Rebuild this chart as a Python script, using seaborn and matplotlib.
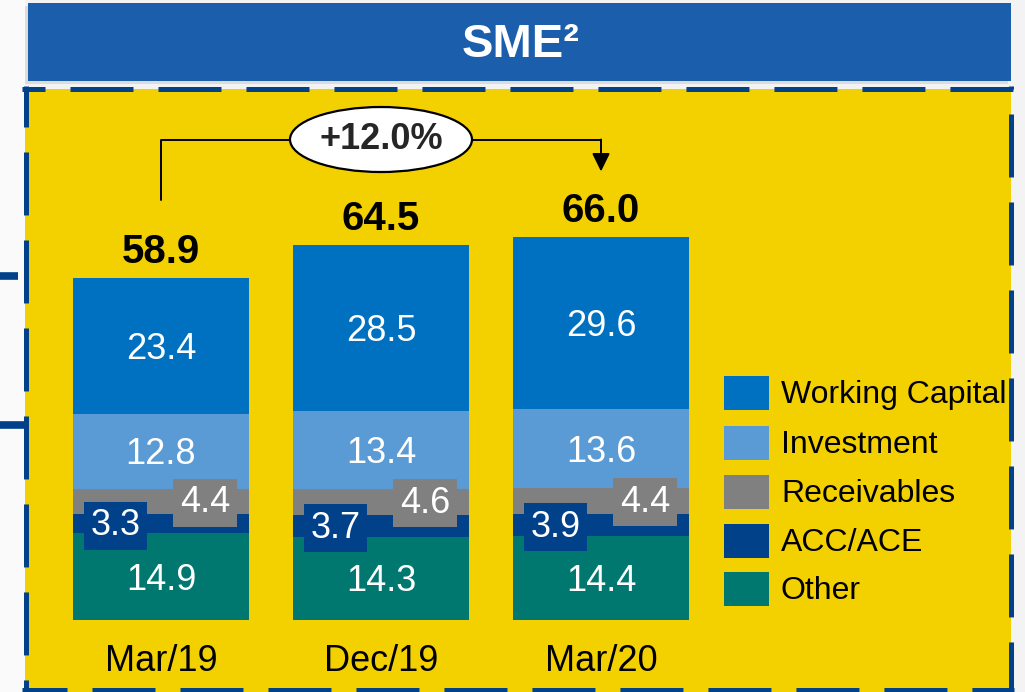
import numpy as np
import pandas as pd
import matplotlib
matplotlib.use("Agg")
import matplotlib.pyplot as plt
import seaborn as sns
from matplotlib.patches import Rectangle, Ellipse
from matplotlib.lines import Line2D

# --- data ---
periods = ['Mar/19', 'Dec/19', 'Mar/20']
other = [14.9, 14.3, 14.4]
acc_ace = [3.3, 3.7, 3.9]
receivables = [4.4, 4.6, 4.4]
investment = [12.8, 13.4, 13.6]
working_capital = [23.4, 28.5, 29.6]
totals = [58.9, 64.5, 66.0]
growth_label = '+12.0%'
title = 'SME²'

# stack order, bottom to top
segments = ['Other', 'ACC/ACE', 'Receivables', 'Investment', 'Working Capital']
values = [other, acc_ace, receivables, investment, working_capital]
colors = {
    'Working Capital': '#0070C0',
    'Investment': '#5B9BD5',
    'Receivables': '#808080',
    'ACC/ACE': '#00418A',
    'Other': '#00786F',
}

rows = []
for p_i, period in enumerate(periods):
    bottom = 0.0
    for seg, vals in zip(segments, values):
        v = vals[p_i]
        rows.append({'period': period, 'segment': seg, 'value': v,
                     'bottom': bottom, 'top': bottom + v})
        bottom += v
df = pd.DataFrame(rows)

sns.set_style('white')
plt.rcParams['font.family'] = ['Liberation Sans', 'DejaVu Sans']

W, H = 1025, 692
fig = plt.figure(figsize=(W / 100, H / 100), dpi=100)
fig.patch.set_facecolor('#F3F3F3')


def fx(x):
    return x / W


def fy(y):
    return 1 - y / H


BLUE_DARK = '#00418A'
YELLOW = '#F3D000'

# white strip on the left (neighbouring slide)
fig.add_artist(Rectangle((0, 0), fx(25), 1, transform=fig.transFigure,
                         facecolor='#FAFAFA', edgecolor='none', zorder=0))
for y0, x1 in [(276, 18), (425, 25)]:
    fig.add_artist(Line2D([0, fx(x1)], [fy(y0), fy(y0)], transform=fig.transFigure,
                          color=BLUE_DARK, lw=5.5, solid_capstyle='butt', zorder=1))

# title bar with a soft shadow
fig.add_artist(Rectangle((fx(25), fy(84)), fx(983), 78 / H, transform=fig.transFigure,
                         facecolor='#9A9A9A', alpha=0.25, edgecolor='none', zorder=1))
fig.add_artist(Rectangle((fx(28), fy(81)), fx(983), 78 / H, transform=fig.transFigure,
                         facecolor='#1B5EAB', edgecolor='none', zorder=2))
fig.text(fx(521), fy(45), title, color='white', fontsize=34, fontweight='bold',
         ha='center', va='center', zorder=3)

# yellow panel with dashed border
fig.add_artist(Rectangle((fx(25), 0), fx(1011 - 25), (692 - 89) / H,
                         transform=fig.transFigure, facecolor=YELLOW,
                         edgecolor='none', zorder=1))
lw_pt = 3.6
on, off = 63 / 1.389 / lw_pt, 25 / 1.389 / lw_pt


def dashed(xs, ys, offset_px):
    fig.add_artist(Line2D([fx(x) for x in xs], [fy(y) for y in ys],
                          transform=fig.transFigure, color=BLUE_DARK, lw=lw_pt,
                          linestyle=(offset_px / 1.389 / lw_pt, (on, off)),
                          solid_capstyle='butt', dash_capstyle='butt', zorder=2))


dashed([22, 1014], [89, 89], 40)      # top
dashed([25.5, 25.5], [86, 692], 22)    # left
dashed([1011, 1011], [86, 692], 60)    # right
dashed([22, 1014], [690, 690], 18)     # bottom

# --- chart axes: y = 0 at pixel 620, 5.81 px per unit ---
ax_h_px = 90 * 5.81
ax = fig.add_axes([fx(51), fy(620), 660 / W, ax_h_px / H])
ax.set_facecolor('none')
ax.set_zorder(10)

# stacked bars: draw cumulative tops from the top segment down
for seg in reversed(segments):
    sub = df[df['segment'] == seg]
    sns.barplot(data=sub, x='period', y='top', order=periods, color=colors[seg],
                saturation=1, width=0.8, errorbar=None, linewidth=0, ax=ax)

ax.set_xlim(-0.5, 2.5)
ax.set_ylim(0, 90)
ax.set_xlabel('')
ax.set_ylabel('')
ax.set_yticks([])
sns.despine(ax=ax, left=True, bottom=True)
ax.tick_params(axis='x', length=0, labelsize=26, pad=17, labelcolor='black')

# segment labels
for _, r in df.iterrows():
    x = periods.index(r['period'])
    mid = (r['bottom'] + r['top']) / 2
    txt = f"{r['value']:.1f}"
    kw = dict(textcoords='offset points', color='white', fontsize=26,
              ha='center', va='center')
    if r['segment'] == 'ACC/ACE':
        ax.annotate(txt, xy=(x - 0.205, mid), xytext=(0, -1.5),
                    bbox=dict(boxstyle='square,pad=0.18',
                              fc=colors['ACC/ACE'], ec='none'), **kw)
    elif r['segment'] == 'Receivables':
        ax.annotate(txt, xy=(x + 0.2, mid), xytext=(0, -1),
                    bbox=dict(boxstyle='square,pad=0.18',
                              fc=colors['Receivables'], ec='none'), **kw)
    else:
        ax.annotate(txt, xy=(x, mid), xytext=(0, -2.5), **kw)

# totals above bars
stack_tops = df.groupby('period', sort=False)['top'].max().reindex(periods).values
for i, t in enumerate(totals):
    ax.annotate(f'{t:.1f}', xy=(i, stack_tops[i]), xytext=(0, 11),
                textcoords='offset points', ha='center', va='baseline',
                fontsize=29, fontweight='bold', color='black')

# growth bracket
start_y = totals[0] + 13.4
level_y = max(totals) + 16.7
tip_y = totals[-1] + 11.2
ax.plot([0, 0, 2, 2], [start_y, level_y, level_y, level_y], color='black',
        lw=1.4, clip_on=False, zorder=4)
ax.annotate('', xy=(2, tip_y), xytext=(2, level_y),
            arrowprops=dict(arrowstyle='-|>,head_length=0.55,head_width=0.27',
                            mutation_scale=20, color='black', lw=1.4,
                            shrinkA=0, shrinkB=0), zorder=4)
ax.add_patch(Ellipse((1, level_y), 182 / 220, 65 / 5.81, facecolor='white',
                     edgecolor='black', lw=1.6, clip_on=False, zorder=5))
ax.text(1, level_y, growth_label, fontsize=26, fontweight='bold', ha='center',
        va='center', zorder=6)

# legend, top to bottom
leg_tops = [376, 426, 475, 524, 572]
for seg, top in zip(reversed(segments), leg_tops):
    fig.add_artist(Rectangle((fx(724), fy(top + 34)), 45 / W, 34 / H,
                             transform=fig.transFigure, facecolor=colors[seg],
                             edgecolor='none', zorder=3))
    fig.text(fx(781), fy(top + 19), seg, fontsize=23, color='black',
             ha='left', va='center', zorder=3)

fig.savefig('out.png', dpi=100, facecolor=fig.get_facecolor())
